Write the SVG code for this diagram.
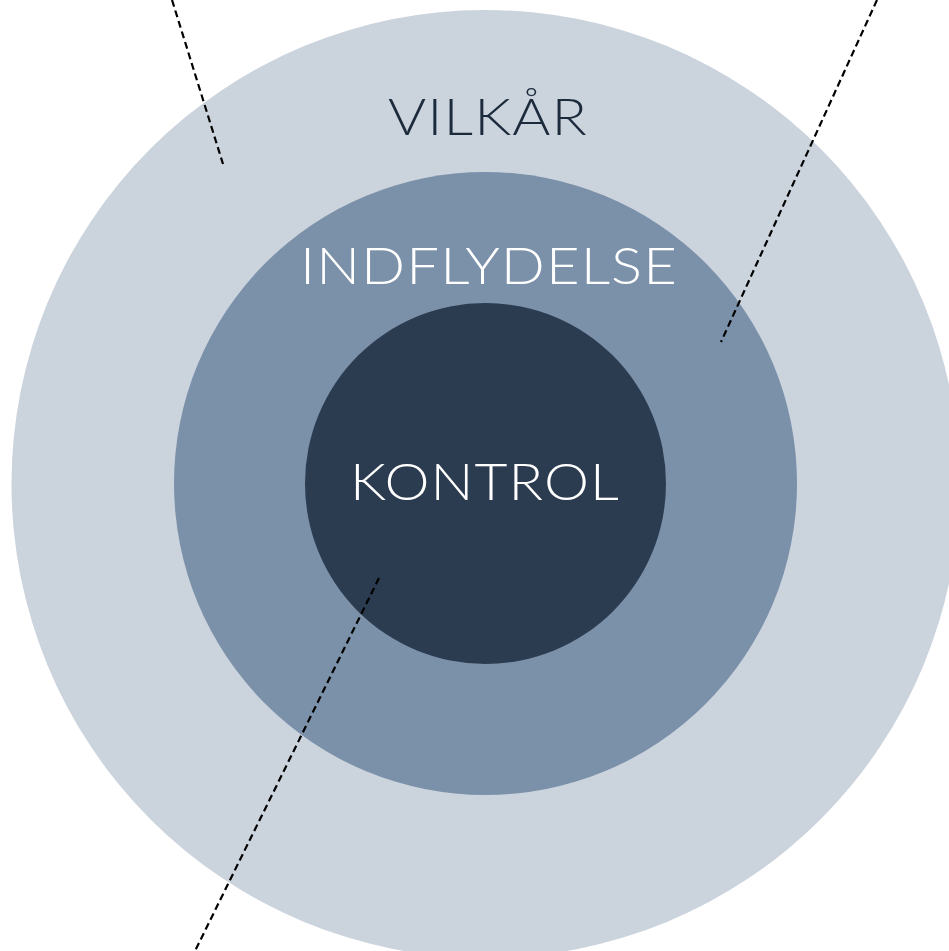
<svg xmlns="http://www.w3.org/2000/svg" width="949" height="951" viewBox="0 0 949 951">
<style>
.lbl{font-family:"Lato","Liberation Sans",sans-serif;font-size:52px;font-weight:300;text-anchor:middle;letter-spacing:1px}
.conn{stroke:#000;stroke-width:2.2;stroke-dasharray:7,4;fill:none}
</style>
<rect width="949" height="951" fill="#fff"/>
<g id="vilkar">
<circle cx="485.5" cy="484" r="474" fill="#CBD3DD"/>
<text class="lbl" x="488" y="135" fill="#1C2B3B" textLength="200" lengthAdjust="spacingAndGlyphs">VILKÅR</text>
</g>
<g id="indflydelse">
<circle cx="485.5" cy="483.5" r="311.5" fill="#7B90A9"/>
<text class="lbl" x="489" y="284" fill="#FFFFFF" textLength="378" lengthAdjust="spacingAndGlyphs">INDFLYDELSE</text>
</g>
<g id="kontrol">
<circle cx="485.5" cy="483.5" r="180.5" fill="#2C3C50"/>
<text class="lbl" x="485" y="500" fill="#FFFFFF" textLength="270" lengthAdjust="spacingAndGlyphs">KONTROL</text>
</g>
<g id="connectors">
<line class="conn" x1="172" y1="0" x2="223" y2="164"/>
<line class="conn" x1="877" y1="0" x2="721" y2="342"/>
<line class="conn" x1="379" y1="578" x2="195" y2="951"/>
</g>
</svg>
